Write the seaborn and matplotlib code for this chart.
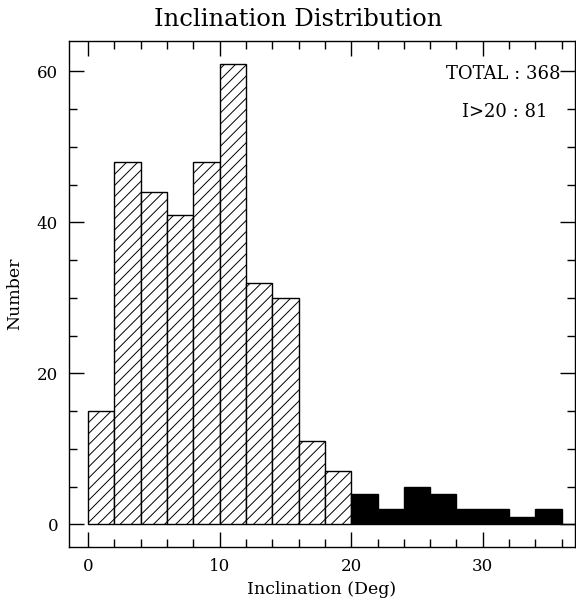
import numpy as np
import matplotlib
matplotlib.use('Agg')
import matplotlib.pyplot as plt
from matplotlib.ticker import MultipleLocator
import seaborn as sns

# histogram counts (bin width 2 deg)
low_edges = [0, 2, 4, 6, 8, 10, 12, 14, 16, 18, 20]
low_counts = [15, 48, 44, 41, 48, 61, 32, 30, 11, 7]
high_edges = [20, 22, 24, 26, 28, 30, 32, 34, 36, 38]
high_counts = [4, 2, 5, 4, 2, 2, 1, 2, 0]

total_label = "TOTAL : 368"
high_label = "I>20 : 81"

sns.set_style('ticks')
plt.rcParams['font.family'] = ['DejaVu Serif']
plt.rcParams['hatch.linewidth'] = 0.7
for k in ['text.color', 'axes.labelcolor', 'xtick.color', 'ytick.color',
          'axes.edgecolor']:
    plt.rcParams[k] = 'black'

fig = plt.figure(figsize=(5.76, 6.05), dpi=100)
ax = fig.add_axes([0.12, 0.096, 0.878, 0.836])

low_centers = np.array(low_edges[:-1]) + 1
high_centers = np.array(high_edges[:-1]) + 1

sns.histplot(x=low_centers, weights=low_counts, bins=low_edges, ax=ax,
             color='white', edgecolor='black', linewidth=1.0, alpha=1)
for p in ax.patches:
    p.set_hatch('///')
    p.set_facecolor('white')

sns.histplot(x=high_centers, weights=high_counts, bins=high_edges, ax=ax,
             color='black', edgecolor='black', linewidth=1.0, alpha=1)

ax.set_xlim(-1.45, 37)
ax.set_ylim(-3, 64)
ax.xaxis.set_major_locator(MultipleLocator(10))
ax.xaxis.set_minor_locator(MultipleLocator(2))
ax.yaxis.set_major_locator(MultipleLocator(20))
ax.yaxis.set_minor_locator(MultipleLocator(5))
ax.tick_params(which='both', direction='in', top=True, right=True,
               labelsize=12, width=1)
ax.tick_params(which='major', length=11, pad=8)
ax.tick_params(which='minor', length=6)
for s in ax.spines.values():
    s.set_linewidth(1.0)

fig.text(0.518, 0.968, 'Inclination Distribution', ha='center', va='center',
         fontsize=17.5)
ax.set_xlabel('Inclination (Deg)', fontsize=12.5, labelpad=4)
ax.set_ylabel('Number', fontsize=12.5, labelpad=10)

ax.text(0.972, 0.935, total_label, transform=ax.transAxes, ha='right',
        va='center', fontsize=13)
ax.text(0.945, 0.86, high_label, transform=ax.transAxes, ha='right',
        va='center', fontsize=13)

fig.savefig('out.png', dpi=100)
